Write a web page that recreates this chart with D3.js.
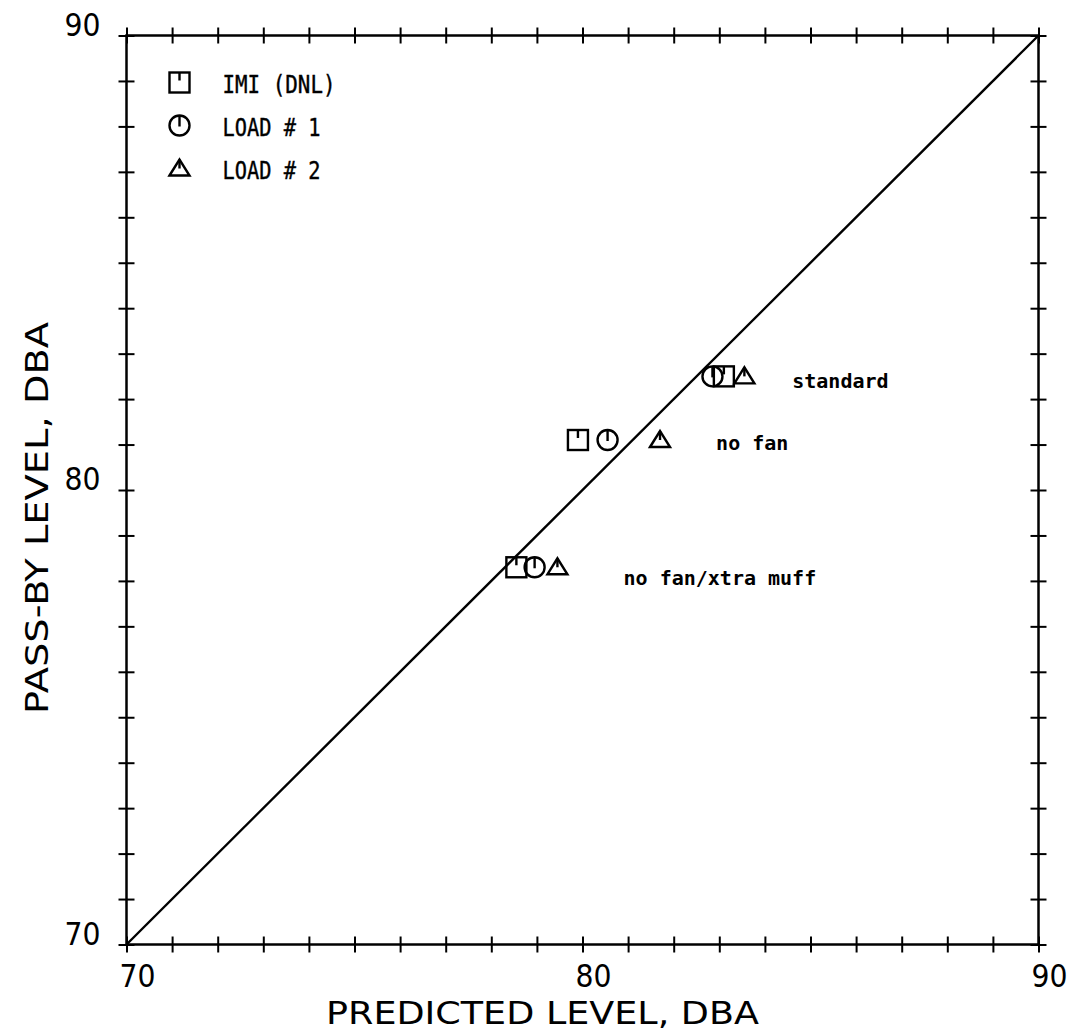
<!DOCTYPE html>
<html>
<head>
<meta charset="utf-8">
<script src="https://cdn.jsdelivr.net/npm/d3@7"></script>
<style>
    body { margin: 0; background: #fff; }
    svg { display: block; }
    .frame { fill: none; stroke: #000; stroke-width: 2.5; }
    .tick line { stroke: #000; stroke-width: 2; }
    .ticklabel { font-family: "DejaVu Sans", sans-serif; font-size: 32px; fill: #000; }
    .axistitle { font-family: "DejaVu Sans", sans-serif; font-size: 32px; fill: #000; }
    .mark { fill: none; stroke: #000; stroke-width: 2.4; }
    .note { font-family: "DejaVu Sans Mono", monospace; font-size: 20px; font-weight: bold; fill: #000; }
    .legend text { font-family: "DejaVu Sans Mono", monospace; font-size: 24px; fill: #000; stroke: #000; stroke-width: 0.4; }
</style>
</head>
<body>
<svg id="Chart" width="1071" height="1032"></svg>
<script>
// axis
var axisMin = 70;
var axisMax = 90;
var tickValues = d3.range(70, 91, 1);
var tickLabels = [70, 80, 90];

// series: three configurations, one value per configuration
var configs = ['standard', 'no fan', 'no fan/xtra muff'];
var passBy = [82.5, 81.1, 78.3];
var predictedImi = [83.1, 79.9, 78.55];
var predictedLoad1 = [82.85, 80.55, 78.95];
var predictedLoad2 = [83.55, 81.7, 79.45];

// where the configuration names sit (data units)
var noteX = [84.6, 82.93, 80.9];
var noteY = [82.25, 80.87, 77.9];

var legendNames = ['IMI (DNL)', 'LOAD # 1', 'LOAD # 2'];
var legendWidths = [113, 98, 98];

var svg = d3.select('#Chart');
var plotLeft = 126.5, plotRight = 1038.5, plotTop = 35.5, plotBottom = 944.5;
var tickLen = 8;

var xScale = d3.scaleLinear().domain([axisMin, axisMax]).range([plotLeft, plotRight]);
var yScale = d3.scaleLinear().domain([axisMin, axisMax]).range([plotBottom, plotTop]);

// crossing ticks on all four sides
var fmt = function () { return ''; };
svg.append('g').attr('transform', 'translate(0,' + (plotBottom + tickLen) + ')')
    .call(d3.axisTop(xScale).tickValues(tickValues).tickSize(tickLen * 2).tickFormat(fmt));
svg.append('g').attr('transform', 'translate(0,' + (plotTop + tickLen) + ')')
    .call(d3.axisTop(xScale).tickValues(tickValues).tickSize(tickLen * 2).tickFormat(fmt));
svg.append('g').attr('transform', 'translate(' + (plotLeft - tickLen) + ',0)')
    .call(d3.axisRight(yScale).tickValues(tickValues).tickSize(tickLen * 2).tickFormat(fmt));
svg.append('g').attr('transform', 'translate(' + (plotRight - tickLen) + ',0)')
    .call(d3.axisRight(yScale).tickValues(tickValues).tickSize(tickLen * 2).tickFormat(fmt));
svg.selectAll('.domain').remove();

svg.append('rect')
    .attr('class', 'frame')
    .attr('x', plotLeft)
    .attr('y', plotTop)
    .attr('width', plotRight - plotLeft)
    .attr('height', plotBottom - plotTop);

// tick labels
svg.append('g')
    .selectAll('text')
    .data(tickLabels)
    .enter()
    .append('text')
    .attr('class', 'ticklabel')
    .attr('x', function (d) { return xScale(d) - 7; })
    .attr('y', plotBottom + 42)
    .attr('textLength', 36)
    .attr('lengthAdjust', 'spacingAndGlyphs')
    .text(function (d) { return d; });
svg.append('g')
    .selectAll('text')
    .data(tickLabels)
    .enter()
    .append('text')
    .attr('class', 'ticklabel')
    .attr('x', plotLeft - 26 - 36)
    .attr('y', function (d) { return yScale(d); })
    .attr('textLength', 36)
    .attr('lengthAdjust', 'spacingAndGlyphs')
    .text(function (d) { return d; });

// titles
svg.append('text')
    .attr('class', 'axistitle')
    .attr('x', 326)
    .attr('y', 1024)
    .attr('textLength', 433)
    .attr('lengthAdjust', 'spacingAndGlyphs')
    .text('PREDICTED LEVEL, DBA');
svg.append('text')
    .attr('class', 'axistitle')
    .attr('transform', 'translate(48,714) rotate(-90)')
    .attr('x', 0)
    .attr('y', 0)
    .attr('textLength', 392)
    .attr('lengthAdjust', 'spacingAndGlyphs')
    .text('PASS-BY LEVEL, DBA');

// 1:1 line
var line = d3.line()
    .x(function (d) { return xScale(d[0]); })
    .y(function (d) { return yScale(d[1]); });
svg.append('path')
    .attr('class', 'mark')
    .attr('d', line([[axisMin, axisMin], [axisMax, axisMax]]));

// markers
function square(g) {
    g.append('rect').attr('class', 'mark').attr('x', -10).attr('y', -10).attr('width', 20).attr('height', 20);
    g.append('line').attr('class', 'mark').attr('x1', 0).attr('y1', -10).attr('x2', 0).attr('y2', -2);
}
function circle(g) {
    g.append('circle').attr('class', 'mark').attr('r', 10);
    g.append('line').attr('class', 'mark').attr('x1', 0).attr('y1', -10).attr('x2', 0).attr('y2', 1);
}
function triangle(g) {
    g.append('path').attr('class', 'mark').attr('d', 'M-10,7L0,-9L10,7Z');
    g.append('line').attr('class', 'mark').attr('x1', 0).attr('y1', -9).attr('x2', 0).attr('y2', 0);
}

function drawSeries(values, shape) {
    svg.append('g')
        .selectAll('g')
        .data(values)
        .enter()
        .append('g')
        .attr('transform', function (d, i) {
            return 'translate(' + xScale(d) + ',' + yScale(passBy[i]) + ')';
        })
        .each(function () { shape(d3.select(this)); });
}
drawSeries(predictedImi, square);
drawSeries(predictedLoad1, circle);
drawSeries(predictedLoad2, triangle);

svg.append('g')
    .selectAll('text')
    .data(configs)
    .enter()
    .append('text')
    .attr('class', 'note')
    .attr('x', function (d, i) { return xScale(noteX[i]); })
    .attr('y', function (d, i) { return yScale(noteY[i]); })
    .text(function (d) { return d; });

// legend
var shapes = [square, circle, triangle];
var legend = svg.append('g').attr('class', 'legend');
legendNames.forEach(function (name, i) {
    var y = plotTop + 47 + i * 43;
    shapes[i](legend.append('g').attr('transform', 'translate(' + (plotLeft + 53) + ',' + y + ')'));
    legend.append('text')
        .attr('x', plotLeft + 96)
        .attr('y', y + 10)
        .attr('textLength', legendWidths[i])
        .attr('lengthAdjust', 'spacingAndGlyphs')
        .text(name);
});
</script>
</body>
</html>
